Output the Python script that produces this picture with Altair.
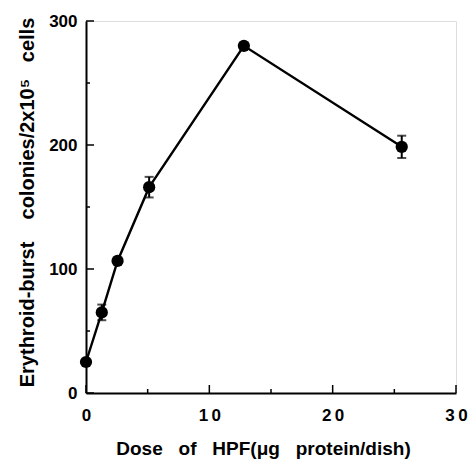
import altair as alt
import pandas as pd

dose = [0, 1.28, 2.56, 5.12, 12.8, 25.6]
colonies = [25, 65, 106.5, 166, 280, 198.5]
err = [0, 6.3, 0, 8.3, 2, 9]

x_major = [0, 10, 20, 30]
x_minor = [5, 15, 25]
y_major = [0, 100, 200, 300]
y_minor = [50, 150, 250]

W, H = 370, 372
FONT = "Liberation Sans"

df = pd.DataFrame({"dose": dose, "col": colonies, "err": err})
df["lo"] = df["col"] - df["err"]
df["hi"] = df["col"] + df["err"]

xscale = alt.Scale(domain=[0, 30], nice=False, zero=False)
yscale = alt.Scale(domain=[0, 300], nice=False)

xaxis = alt.Axis(
    values=x_major, ticks=False, grid=False, domainColor="black", domainWidth=2,
    labelFont=FONT, labelFontSize=17, labelFontWeight="bold", labelColor="black",
    labelPadding=14, labelFlush=False,
    labelExpr="join(split(datum.label, ''), '\u2009')",
    title="Dose\u00a0\u00a0 of\u00a0\u00a0 HPF(\u03bcg\u00a0\u00a0 protein/dish)",
    titleFont=FONT, titleFontSize=19, titleFontWeight="bold", titleColor="black",
    titleX=177, titleY=61, titleBaseline="alphabetic",
)
yaxis = alt.Axis(
    values=y_major, ticks=False, grid=False, domainColor="black", domainWidth=2,
    labelFont=FONT, labelFontSize=17, labelFontWeight="bold", labelColor="black",
    labelPadding=9, labelFlush=False,
    title="Erythroid-burst\u00a0\u00a0\u00a0 colonies/2x10\u2075\u00a0\u00a0 cells",
    titleFont=FONT, titleFontSize=20, titleFontWeight="bold", titleColor="black",
    titleX=-53, titleY=181, titleBaseline="alphabetic", titleAngle=270,
)

base = alt.Chart(df)

line = base.mark_line(color="black", strokeWidth=2.4).encode(
    x=alt.X("dose:Q", scale=xscale, axis=xaxis),
    y=alt.Y("col:Q", scale=yscale, axis=yaxis),
)
pts = base.mark_point(filled=True, color="black", size=150, opacity=1).encode(
    x=alt.X("dose:Q", scale=xscale), y=alt.Y("col:Q", scale=yscale)
)
ebar = base.mark_rule(color="black", strokeWidth=2).encode(
    x=alt.X("dose:Q", scale=xscale), y=alt.Y("lo:Q", scale=yscale), y2="hi:Q"
)
cap_lo = base.mark_tick(color="black", size=9, thickness=2, orient="horizontal").encode(
    x=alt.X("dose:Q", scale=xscale), y=alt.Y("lo:Q", scale=yscale)
)
cap_hi = base.mark_tick(color="black", size=9, thickness=2, orient="horizontal").encode(
    x=alt.X("dose:Q", scale=xscale), y=alt.Y("hi:Q", scale=yscale)
)

def xticks(vals, length):
    return alt.Chart(pd.DataFrame({"v": vals})).mark_rule(color="black", strokeWidth=1.5).encode(
        x=alt.X("v:Q", scale=xscale), y=alt.value(H), y2=alt.value(H - length)
    )

def yticks(vals, length):
    return alt.Chart(pd.DataFrame({"v": vals})).mark_rule(color="black", strokeWidth=1.5).encode(
        y=alt.Y("v:Q", scale=yscale), x=alt.value(0), x2=alt.value(length)
    )

chart = alt.layer(
    line, xticks(x_major, 8), xticks(x_minor, 4), yticks(y_major, 8), yticks(y_minor, 4),
    ebar, cap_lo, cap_hi, pts,
).properties(
    width=W, height=H,
    autosize=alt.AutoSizeParams(type="none"),
    padding={"left": 86, "top": 21, "right": 14, "bottom": 66},
).configure_view(stroke=None).configure(background="white")

chart.save("out.html", embed_options={"renderer": "svg", "actions": False})
